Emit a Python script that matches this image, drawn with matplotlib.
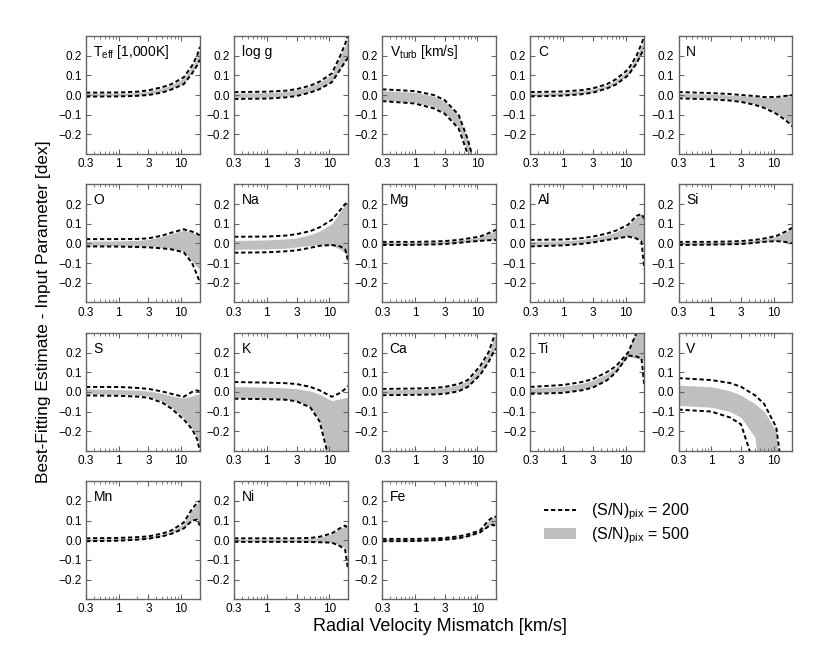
import matplotlib
matplotlib.use("Agg")
import matplotlib.pyplot as plt
from matplotlib.ticker import FixedLocator, NullFormatter
from matplotlib.lines import Line2D
from matplotlib.patches import Patch

plt.rcParams['font.family'] = ['Liberation Sans', 'DejaVu Sans']
plt.rcParams['mathtext.fontset'] = 'custom'
plt.rcParams['mathtext.rm'] = 'Liberation Sans'
plt.rcParams['mathtext.it'] = 'Liberation Sans:italic'
plt.rcParams['axes.unicode_minus'] = True

# radial velocity mismatch grid [km/s]
rv = [0.3, 1, 2, 3, 5, 7, 11, 15, 18, 20]

labels = [r"T$_{\rm eff}$ [1,000K]", "log g", r"V$_{\rm turb}$ [km/s]", "C", "N",
          "O", "Na", "Mg", "Al", "Si",
          "S", "K", "Ca", "Ti", "V",
          "Mn", "Ni", "Fe"]

# S/N = 200: upper / lower envelope (dashed)
hi200 = {
    "Teff": [0.012, 0.013, 0.017, 0.024, 0.04, 0.055, 0.09, 0.15, 0.2, 0.245],
    "logg": [0.015, 0.017, 0.022, 0.03, 0.048, 0.068, 0.11, 0.2, 0.26, 0.31],
    "vturb": [0.029, 0.02, 0.0, -0.026, -0.1, -0.224, -0.45, -1, -1, -1],
    "C": [0.015, 0.018, 0.025, 0.034, 0.055, 0.08, 0.13, 0.2, 0.26, 0.3],
    "N": [0.015, 0.01, 0.005, 0.0, -0.005, -0.01, -0.01, -0.005, -0.002, 0.0],
    "O": [0.022, 0.022, 0.023, 0.026, 0.04, 0.055, 0.072, 0.06, 0.05, 0.04],
    "Na": [0.034, 0.035, 0.04, 0.047, 0.063, 0.082, 0.12, 0.17, 0.2, 0.215],
    "Mg": [0.008, 0.008, 0.01, 0.012, 0.018, 0.025, 0.035, 0.052, 0.063, 0.07],
    "Al": [0.018, 0.02, 0.027, 0.035, 0.05, 0.065, 0.095, 0.14, 0.15, 0.125],
    "Si": [0.008, 0.008, 0.01, 0.012, 0.018, 0.025, 0.038, 0.058, 0.072, 0.08],
    "S": [0.025, 0.025, 0.02, 0.015, 0.002, -0.01, -0.025, 0.0, 0.008, 0.0],
    "K": [0.05, 0.047, 0.044, 0.04, 0.025, 0.008, -0.025, -0.005, 0.015, 0.03],
    "Ca": [0.015, 0.017, 0.02, 0.025, 0.04, 0.06, 0.13, 0.2, 0.27, 0.32],
    "Ti": [0.025, 0.035, 0.05, 0.065, 0.1, 0.13, 0.2, 0.3, 0.35, 0.38],
    "V": [0.07, 0.06, 0.045, 0.026, -0.017, -0.06, -0.18, -0.5, -1, -1],
    "Mn": [0.01, 0.012, 0.016, 0.02, 0.034, 0.05, 0.09, 0.16, 0.19, 0.2],
    "Ni": [0.01, 0.01, 0.01, 0.01, 0.012, 0.018, 0.035, 0.062, 0.075, 0.06],
    "Fe": [0.007, 0.007, 0.009, 0.012, 0.02, 0.03, 0.05, 0.1, 0.12, 0.12],
}
lo200 = {
    "Teff": [-0.008, -0.007, -0.004, 0.0, 0.013, 0.028, 0.055, 0.11, 0.15, 0.18],
    "logg": [-0.02, -0.018, -0.012, -0.005, 0.013, 0.03, 0.065, 0.13, 0.17, 0.19],
    "vturb": [-0.031, -0.043, -0.068, -0.095, -0.17, -0.3, -0.7, -1, -1, -1],
    "C": [-0.007, -0.003, 0.004, 0.012, 0.033, 0.053, 0.1, 0.16, 0.21, 0.24],
    "N": [-0.017, -0.022, -0.028, -0.035, -0.05, -0.065, -0.095, -0.125, -0.145, -0.16],
    "O": [-0.015, -0.016, -0.018, -0.02, -0.025, -0.03, -0.045, -0.1, -0.16, -0.2],
    "Na": [-0.047, -0.045, -0.04, -0.035, -0.022, -0.012, -0.008, -0.015, -0.03, -0.09],
    "Mg": [-0.008, -0.007, -0.005, -0.003, 0.003, 0.008, 0.013, 0.016, 0.018, 0.018],
    "Al": [-0.015, -0.01, -0.002, 0.005, 0.017, 0.025, 0.035, 0.025, 0.01, -0.13],
    "Si": [-0.008, -0.006, -0.004, -0.003, 0.003, 0.008, 0.012, 0.008, 0.003, 0.0],
    "S": [-0.018, -0.02, -0.024, -0.03, -0.055, -0.085, -0.14, -0.19, -0.24, -0.3],
    "K": [-0.035, -0.037, -0.04, -0.048, -0.08, -0.15, -0.4, -0.6, -0.8, -1.0],
    "Ca": [-0.017, -0.015, -0.013, -0.01, 0.003, 0.025, 0.085, 0.15, 0.2, 0.22],
    "Ti": [-0.01, -0.005, 0.008, 0.022, 0.058, 0.098, 0.185, 0.18, 0.17, 0.03],
    "V": [-0.09, -0.1, -0.13, -0.165, -0.38, -0.8, -1, -1, -1, -1],
    "Mn": [-0.005, -0.002, 0.003, 0.008, 0.02, 0.033, 0.06, 0.1, 0.105, 0.075],
    "Ni": [-0.008, -0.008, -0.008, -0.008, -0.009, -0.01, -0.012, -0.03, -0.05, -0.15],
    "Fe": [-0.005, -0.004, 0.0, 0.003, 0.01, 0.02, 0.04, 0.07, 0.08, 0.06],
}

# S/N = 500: upper / lower edge of grey band
hi500 = {
    "Teff": [0.008, 0.009, 0.013, 0.02, 0.036, 0.05, 0.085, 0.145, 0.19, 0.23],
    "logg": [0.01, 0.012, 0.018, 0.026, 0.044, 0.064, 0.105, 0.195, 0.25, 0.3],
    "vturb": [0.022, 0.014, -0.006, -0.032, -0.105, -0.23, -0.46, -1, -1, -1],
    "C": [0.01, 0.013, 0.021, 0.03, 0.05, 0.075, 0.125, 0.195, 0.25, 0.29],
    "N": [0.008, 0.005, 0.0, -0.004, -0.008, -0.012, -0.012, -0.008, -0.005, -0.003],
    "O": [0.012, 0.013, 0.016, 0.02, 0.035, 0.05, 0.068, 0.055, 0.045, 0.035],
    "Na": [0.015, 0.018, 0.023, 0.028, 0.045, 0.063, 0.1, 0.16, 0.2, 0.21],
    "Mg": [0.005, 0.005, 0.007, 0.01, 0.015, 0.022, 0.032, 0.05, 0.06, 0.068],
    "Al": [0.01, 0.013, 0.02, 0.028, 0.043, 0.058, 0.09, 0.135, 0.148, 0.14],
    "Si": [0.005, 0.005, 0.007, 0.009, 0.015, 0.022, 0.035, 0.055, 0.07, 0.078],
    "S": [0.015, 0.012, 0.008, 0.004, -0.008, -0.02, -0.032, -0.02, -0.012, -0.01],
    "K": [0.027, 0.024, 0.02, 0.016, 0.005, -0.012, -0.045, -0.035, -0.03, -0.028],
    "Ca": [0.01, 0.012, 0.016, 0.021, 0.036, 0.056, 0.125, 0.195, 0.26, 0.3],
    "Ti": [0.018, 0.028, 0.043, 0.058, 0.092, 0.123, 0.2, 0.32, 0.38, 0.4],
    "V": [0.034, 0.026, 0.005, -0.017, -0.06, -0.098, -0.2, -0.8, -1, -1],
    "Mn": [0.006, 0.008, 0.012, 0.016, 0.03, 0.046, 0.085, 0.155, 0.185, 0.195],
    "Ni": [0.006, 0.006, 0.006, 0.006, 0.009, 0.015, 0.032, 0.06, 0.072, 0.065],
    "Fe": [0.005, 0.005, 0.007, 0.01, 0.018, 0.027, 0.047, 0.097, 0.117, 0.118],
}
lo500 = {
    "Teff": [-0.004, -0.003, 0.0, 0.004, 0.017, 0.032, 0.06, 0.115, 0.155, 0.19],
    "logg": [-0.012, -0.011, -0.006, 0.0, 0.018, 0.035, 0.07, 0.135, 0.175, 0.2],
    "vturb": [-0.025, -0.037, -0.06, -0.089, -0.163, -0.29, -0.7, -1, -1, -1],
    "C": [-0.003, 0.0, 0.008, 0.016, 0.037, 0.057, 0.105, 0.165, 0.215, 0.25],
    "N": [-0.01, -0.016, -0.022, -0.03, -0.045, -0.06, -0.09, -0.12, -0.14, -0.15],
    "O": [-0.01, -0.011, -0.012, -0.014, -0.02, -0.025, -0.04, -0.09, -0.12, -0.13],
    "Na": [-0.03, -0.028, -0.024, -0.018, -0.01, -0.006, -0.01, -0.03, -0.05, -0.08],
    "Mg": [-0.005, -0.004, -0.002, 0.0, 0.005, 0.01, 0.015, 0.018, 0.02, 0.02],
    "Al": [-0.01, -0.006, 0.002, 0.008, 0.02, 0.028, 0.037, 0.028, 0.015, 0.0],
    "Si": [-0.005, -0.004, -0.002, 0.0, 0.005, 0.01, 0.014, 0.01, 0.005, 0.002],
    "S": [-0.01, -0.012, -0.016, -0.022, -0.048, -0.078, -0.13, -0.185, -0.23, -0.28],
    "K": [-0.03, -0.032, -0.036, -0.044, -0.076, -0.145, -0.39, -0.6, -0.8, -1.0],
    "Ca": [-0.01, -0.009, -0.007, -0.005, 0.008, 0.03, 0.09, 0.155, 0.205, 0.23],
    "Ti": [-0.005, 0.0, 0.013, 0.027, 0.063, 0.103, 0.18, 0.17, 0.165, 0.16],
    "V": [-0.069, -0.078, -0.1, -0.13, -0.23, -0.6, -1, -1, -1, -1],
    "Mn": [-0.002, 0.001, 0.006, 0.011, 0.023, 0.036, 0.063, 0.103, 0.108, 0.09],
    "Ni": [-0.005, -0.005, -0.005, -0.005, -0.006, -0.007, -0.01, -0.025, -0.04, -0.06],
    "Fe": [-0.003, -0.002, 0.002, 0.005, 0.012, 0.022, 0.042, 0.073, 0.083, 0.07],
}

keys = list(hi200.keys())

fig, axes = plt.subplots(4, 5, figsize=(8.3, 6.64), dpi=100)
fig.subplots_adjust(left=0.1036, right=0.9548, top=0.9458, bottom=0.0974,
                    wspace=0.30, hspace=0.257)

spine_col = '#666666'
band_col = '#bfbfbf'
dash = (0, (2.2, 1.4))

for i, ax in enumerate(axes.flat):
    if i >= len(keys):
        ax.axis('off')
        continue
    k = keys[i]
    ax.fill_between(rv, lo500[k], hi500[k], color=band_col, lw=0)
    ax.plot(rv, hi200[k], color='black', lw=1.4, linestyle=dash)
    ax.plot(rv, lo200[k], color='black', lw=1.4, linestyle=dash)
    ax.set_xscale('log')
    ax.set_xlim(0.3, 20)
    ax.set_ylim(-0.3, 0.3)
    ax.xaxis.set_major_locator(FixedLocator([0.3, 1, 3, 10]))
    ax.xaxis.set_minor_locator(FixedLocator([0.4, 0.5, 0.6, 0.7, 0.8, 0.9,
                                             2, 4, 5, 6, 7, 8, 9, 20]))
    ax.xaxis.set_minor_formatter(NullFormatter())
    ax.set_xticklabels(['0.3', '1', '3', '10'])
    ax.set_yticks([-0.2, -0.1, 0.0, 0.1, 0.2])
    ax.set_yticklabels(['\u22120.2', '\u22120.1', '0.0', '0.1', '0.2'])
    ax.tick_params(which='both', direction='in', top=True, right=True,
                   labelsize=8.5, color=spine_col, pad=3)
    ax.tick_params(which='major', length=3.5, width=0.8)
    ax.tick_params(which='minor', length=2, width=0.6)
    for s in ax.spines.values():
        s.set_color(spine_col)
        s.set_linewidth(1.0)
    ax.text(0.065, 0.865, labels[i], transform=ax.transAxes, fontsize=10,
            ha='left', va='center')

fig.text(0.053, 0.53, 'Best-Fitting Estimate - Input Parameter [dex]',
         rotation=90, ha='center', va='center', fontsize=12.5)
fig.text(0.53, 0.057, 'Radial Velocity Mismatch [km/s]',
         ha='center', va='center', fontsize=13)

handles = [Line2D([], [], color='black', lw=1.4, linestyle=dash),
           Patch(facecolor=band_col, edgecolor='none')]
fig.legend(handles, [r'(S/N)$_{\rm pix}$ = 200', r'(S/N)$_{\rm pix}$ = 500'],
           loc='center left', bbox_to_anchor=(0.638, 0.2116), frameon=False,
           fontsize=11.5, handlelength=2.0, handletextpad=0.95, labelspacing=0.2)

fig.savefig('out.png', dpi=100)
